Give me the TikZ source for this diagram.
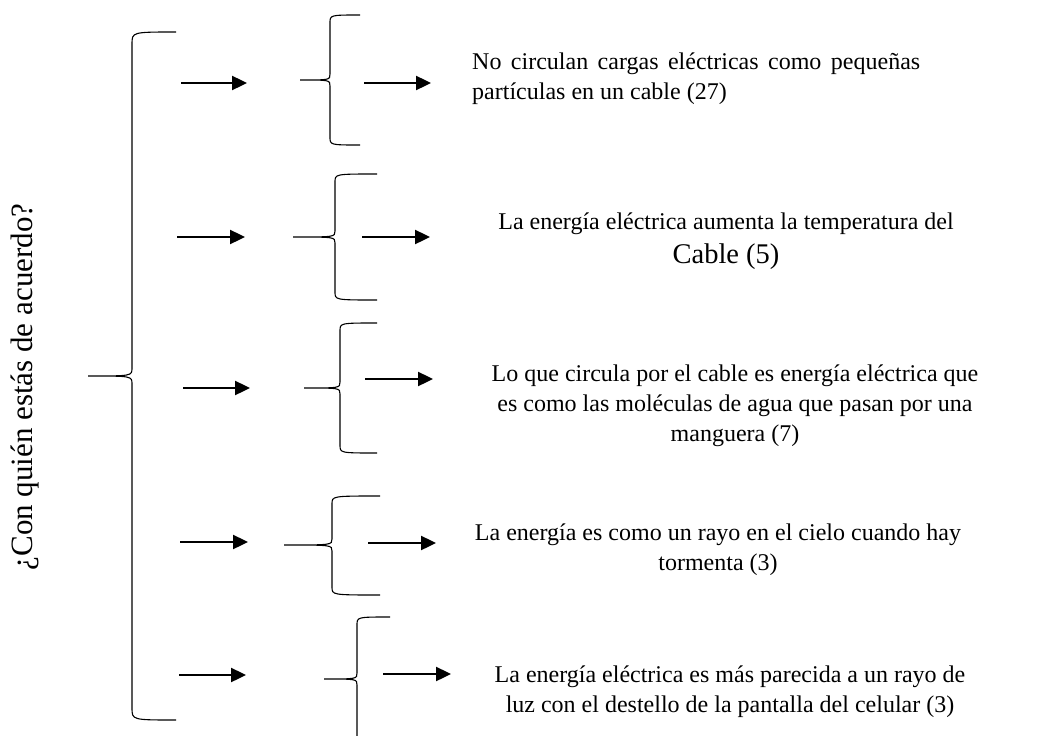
\documentclass[tikz,border=0pt]{standalone}
\usepackage{fontspec}
\setmainfont{Liberation Serif}
\usetikzlibrary{arrows.meta}
\tikzset{
  wbrace/.style={line width=1.1pt},
  harrow/.style={line width=2.4pt,-{Triangle[length=15pt,width=14pt]}},
  answer/.style={inner sep=0pt,align=center,font=\fontsize{24}{30}\selectfont},
}
\begin{document}
\begin{tikzpicture}[x=1pt,y=-1pt]
    \useasboundingbox (0,0) rectangle (1037,736);
    %% question
    \node[rotate=90,inner sep=0pt,font=\fontsize{31}{36}\selectfont] (question) at (25,387) {¿Con quién estás de acuerdo?};
    %% main brace
    \draw[wbrace] (176,32) .. controls (132,32) .. (132,44) -- (132,368) .. controls (132,376) .. (88,376)
        .. controls (132,376) .. (132,384) -- (132,708) .. controls (132,720) .. (176,720);
    %% small braces: end x / spine x / tip x / top y / tip y / bottom y
    \foreach \e/\s/\t/\a/\m/\b in {360/330/300/15/80/145, 377/335/293/174/237/300, 377/340/304/323/388/453,
        380/332/284/496/545/595, 390/357/324/617/679/790}
        \draw[wbrace] (\e,\a) .. controls (\s,\a) .. (\s,\a+8) -- (\s,\m-6) .. controls (\s,\m) .. (\t,\m)
            .. controls (\s,\m) .. (\s,\m+6) -- (\s,\b-8) .. controls (\s,\b) .. (\e,\b);
    %% arrows
    \foreach \n/\xa/\xb/\xc/\xd/\ya/\yb in {1/181/247/364/431/83/83, 2/177/245/362/430/237/237, 3/183/250/365/433/388/379,
        4/180/248/368/436/542/543, 5/179/246/383/451/675/674} {
        \coordinate (la\n) at (\xa,\ya); \coordinate (lb\n) at (\xb,\ya);
        \coordinate (ra\n) at (\xc,\yb); \coordinate (rb\n) at (\xd,\yb);
        \draw[harrow] (la\n) -- (lb\n);
        \draw[harrow] (ra\n) -- (rb\n);
    }
    %% answers (base = last line)
    \node[answer,align=justify,text width=448pt,anchor=base west] (s1) at (472,69)
        {No circulan cargas eléctricas como pequeñas partículas en un cable (27)};
    \node[answer,anchor=base] (s2) at (726,263)
        {La energía eléctrica aumenta la temperatura del\\[4pt]{\fontsize{28.5}{34}\selectfont Cable (5)}};
    \node[answer,anchor=base] (s3) at (735,441)
        {Lo que circula por el cable es energía eléctrica que\\es como las moléculas de agua que pasan por una\\manguera (7)};
    \node[answer,anchor=base] (s4) at (718,570)
        {La energía es como un rayo en el cielo cuando hay\\tormenta (3)};
    \node[answer,anchor=base] (s5) at (730,712)
        {La energía eléctrica es más parecida a un rayo de\\luz con el destello de la pantalla del celular (3)};
\end{tikzpicture}
\end{document}
